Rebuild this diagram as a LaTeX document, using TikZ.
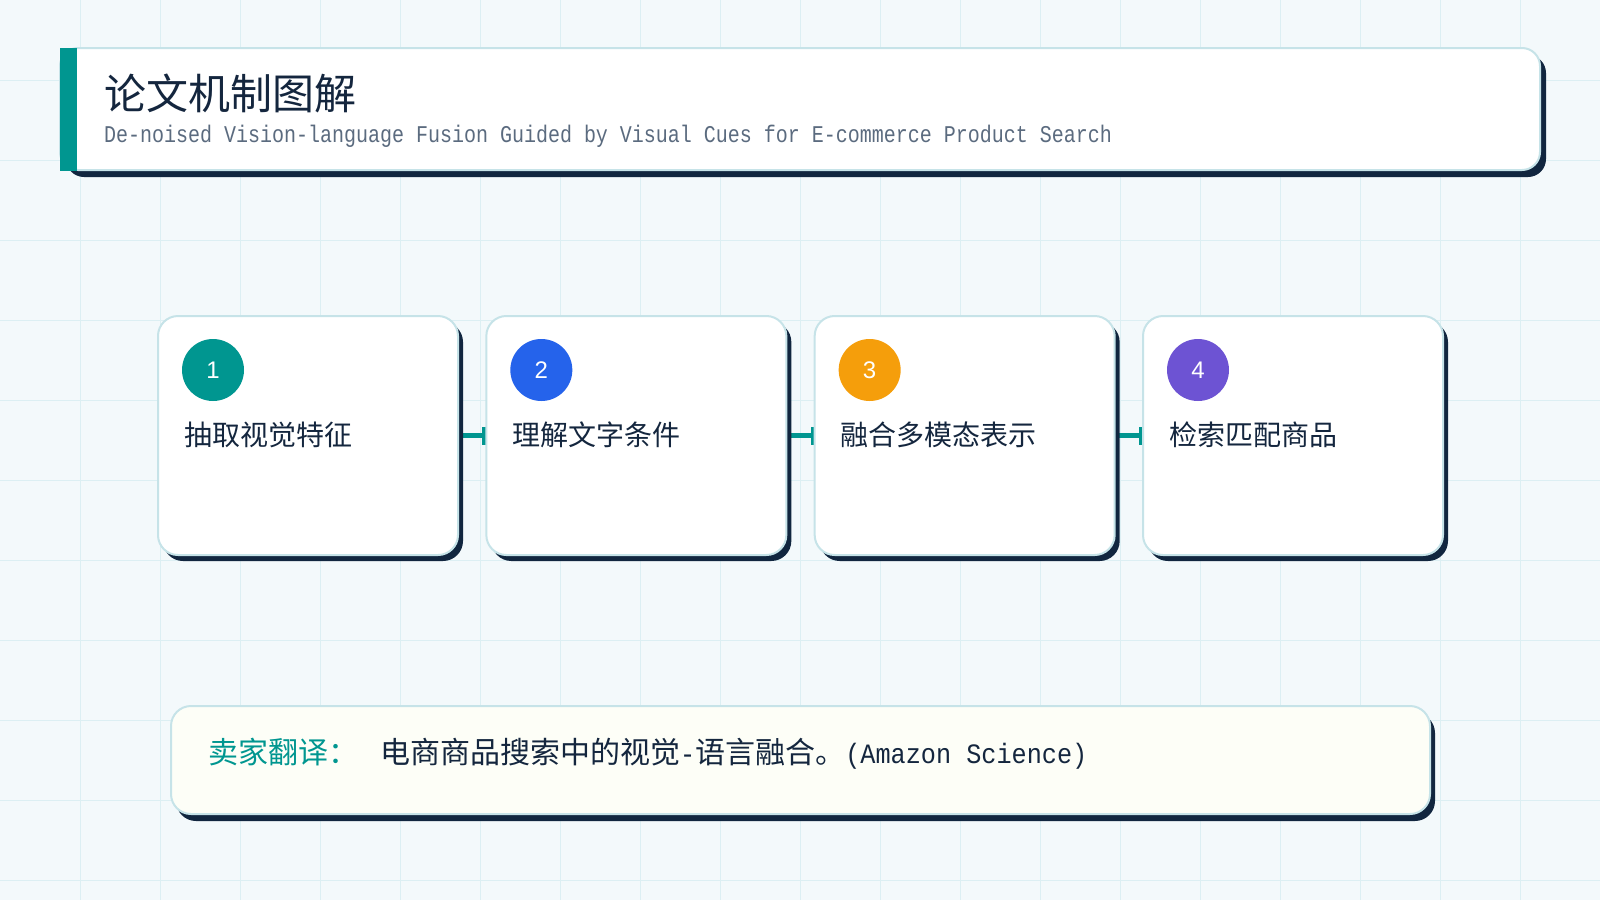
\documentclass[tikz,border=0pt]{standalone}
\usepackage{fontspec}
\setmainfont{Noto Sans CJK SC}
\newfontfamily\cjkf{Noto Sans CJK SC}
\newfontfamily\monof[FakeStretch=0.833]{Liberation Mono}
\newfontfamily\monob[FakeStretch=0.9]{Liberation Mono}
\newfontfamily\numf{Liberation Sans}
\usetikzlibrary{arrows.meta,shadows,calc}
\pgfdeclarelayer{background}
\pgfsetlayers{background,main}
\definecolor{bgc}{HTML}{F3F9FB}
\definecolor{gridc}{HTML}{DCEFF3}
\definecolor{navy}{HTML}{14263E}
\definecolor{subc}{HTML}{5B6B7F}
\definecolor{shadc}{HTML}{11263F}
\definecolor{bordc}{HTML}{C6E3E8}
\definecolor{tealc}{HTML}{009690}
\definecolor{bluec}{HTML}{2563EB}
\definecolor{orangec}{HTML}{F59E0B}
\definecolor{purplec}{HTML}{6D53D3}
\definecolor{ivoryc}{HTML}{FDFEF7}
\begin{document}
\begin{tikzpicture}[x=1pt,y=-1pt,
  card/.style={draw=bordc, line width=2pt, fill=white, rounded corners=20pt,
    minimum width=300pt, minimum height=239pt, inner sep=0pt, outer sep=0pt,
    general shadow={fill=shadc, shadow xshift=5pt, shadow yshift=-6pt}},
  numc/.style={circle, minimum size=62pt, inner sep=0pt, text=white,
    font=\numf\fontsize{24}{28}\selectfont},
  ctext/.style={anchor=base west, inner sep=0pt, text=navy,
    font=\cjkf\fontsize{28}{34}\selectfont},
  conn/.style={draw=tealc, line width=4.5pt, -{Bar[width=18pt,line width=4pt]}},
]
\useasboundingbox (0,0) rectangle (1600,900);
\begin{pgfonlayer}{background}
  \fill[bgc] (0,0) rectangle (1600,900);
  \foreach \k in {1,...,19} \draw[gridc, line width=1pt] (80*\k,0) -- (80*\k,900);
  \foreach \k in {1,...,11} \draw[gridc, line width=1pt] (0,80*\k) -- (1600,80*\k);
\end{pgfonlayer}

% header
\node[draw=bordc, line width=2pt, fill=white, rounded corners=18pt,
  minimum width=1480pt, minimum height=122pt, inner sep=0pt, outer sep=0pt,
  general shadow={fill=shadc, shadow xshift=6pt, shadow yshift=-7pt}]
  (header) at (800,109) {};
\node[fill=tealc, minimum width=17pt, minimum height=123pt, inner sep=0pt,
  anchor=north west] (bar) at (60,48) {};
\node[anchor=base west, inner sep=0pt, text=navy,
  font=\cjkf\fontsize{42}{50}\selectfont] (title) at (104,109) {论文机制图解};
\node[anchor=base west, inner sep=0pt, text=subc,
  font=\monof\fontsize{24}{28}\selectfont] (subtitle) at (104,142)
  {De-noised Vision-language Fusion Guided by Visual Cues for E-commerce Product Search};

% cards
\foreach \i/\col/\txt in {1/tealc/抽取视觉特征, 2/bluec/理解文字条件, 3/orangec/融合多模态表示, 4/purplec/检索匹配商品} {
  \pgfmathsetmacro\cx{308+328.33*(\i-1)}
  \node[card] (card\i) at (\cx,435.5) {};
  \node[numc, fill=\col] (num\i) at ($(card\i.north west)+(55,54)$) {\i};
  \node[ctext] (txt\i) at ($(card\i.north west)+(26,129)$) {\txt};
}
\begin{pgfonlayer}{background}
  \foreach \a/\b in {1/2,2/3,3/4} \draw[conn] (card\a.east) -- (card\b.west);
\end{pgfonlayer}

% note
\node[draw=bordc, line width=2pt, fill=ivoryc, rounded corners=20pt,
  minimum width=1259pt, minimum height=108pt, inner sep=0pt, outer sep=0pt,
  general shadow={fill=shadc, shadow xshift=5pt, shadow yshift=-7pt}]
  (note) at (800.5,760) {};
\node[anchor=base west, inner sep=0pt, text=tealc,
  font=\cjkf\fontsize{30}{36}\selectfont] (notelabel) at (208,763) {卖家翻译：};
\node[anchor=base west, inner sep=0pt, text=navy,
  font=\cjkf\fontsize{30}{36}\selectfont] (notetext) at (380,763)
  {电商商品搜索中的视觉{\monob\fontsize{28}{32}\selectfont -}语言融合。{\monob\fontsize{28}{32}\selectfont (Amazon Science)}};
\end{tikzpicture}
\end{document}
